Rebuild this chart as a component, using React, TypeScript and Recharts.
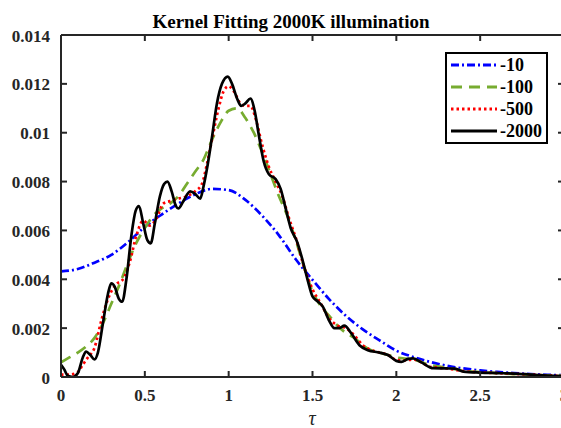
import React from "react";
import { LineChart, Line, XAxis, YAxis, Legend, ReferenceLine } from "recharts";

// kernel density estimates (tau, density)
const tau10 = [0, 0.1, 0.2, 0.3, 0.4, 0.5, 0.6, 0.7, 0.8, 0.9, 1.0, 1.1, 1.2, 1.3, 1.4, 1.5, 1.6, 1.7, 1.8, 1.9, 2.0, 2.1, 2.2, 2.3, 2.4, 2.5, 2.6, 2.7, 2.8, 2.9, 3.0];
const kde10 = [0.00432, 0.00442, 0.00468, 0.005, 0.00552, 0.00615, 0.00665, 0.0071, 0.00748, 0.0077, 0.00765, 0.00725, 0.0066, 0.0058, 0.00482, 0.00398, 0.00318, 0.0025, 0.00195, 0.0015, 0.00108, 0.00082, 0.00062, 0.00046, 0.00035, 0.00027, 0.00021, 0.00016, 0.00012, 0.00009, 0.00007];

const tau100 = [0, 0.05, 0.1, 0.15, 0.2, 0.25, 0.3, 0.35, 0.4, 0.45, 0.5, 0.55, 0.6, 0.65, 0.7, 0.75, 0.8, 0.85, 0.9, 0.95, 1.0, 1.05, 1.1, 1.15, 1.2, 1.25, 1.3, 1.35, 1.4, 1.45, 1.5, 1.55, 1.6, 1.65, 1.7, 1.75, 1.8, 1.85, 1.9, 1.95, 2.0, 2.1, 2.2, 2.3, 2.4, 2.5, 2.6, 2.7, 2.8, 2.9, 3.0];
const kde100 = [0.0006, 0.0008, 0.001, 0.00125, 0.0016, 0.0022, 0.003, 0.0038, 0.0047, 0.0055, 0.0061, 0.0066, 0.0069, 0.0071, 0.0074, 0.0079, 0.0084, 0.0089, 0.0097, 0.0104, 0.0109, 0.011, 0.0106, 0.01, 0.0092, 0.0083, 0.0074, 0.0066, 0.0056, 0.0045, 0.0035, 0.0029, 0.0025, 0.0021, 0.0018, 0.0016, 0.0013, 0.0011, 0.001, 0.0009, 0.0008, 0.00072, 0.0005, 0.00038, 0.00026, 0.0002, 0.00016, 0.00012, 0.00009, 0.00007, 0.00005];

const tau500 = [0, 0.05, 0.1, 0.13, 0.16, 0.2, 0.24, 0.27, 0.3, 0.33, 0.37, 0.41, 0.45, 0.49, 0.53, 0.57, 0.61, 0.65, 0.7, 0.75, 0.8, 0.84, 0.87, 0.9, 0.94, 0.97, 1.0, 1.03, 1.07, 1.1, 1.13, 1.16, 1.2, 1.24, 1.28, 1.32, 1.36, 1.4, 1.45, 1.5, 1.55, 1.6, 1.65, 1.7, 1.75, 1.8, 1.85, 1.9, 1.95, 2.0, 2.05, 2.1, 2.15, 2.2, 2.3, 2.4, 2.5, 2.6, 2.7, 2.8, 2.9, 3.0];
const kde500 = [0.0001, 0.0001, 0.0002, 0.0005, 0.0008, 0.0012, 0.0023, 0.003, 0.0035, 0.0038, 0.004, 0.0047, 0.0058, 0.0064, 0.0062, 0.0065, 0.0071, 0.0072, 0.0073, 0.0074, 0.0076, 0.0079, 0.0087, 0.0097, 0.011, 0.0117, 0.0119, 0.0117, 0.0112, 0.0111, 0.0111, 0.0106, 0.0095, 0.0086, 0.008, 0.0074, 0.0065, 0.0057, 0.0045, 0.0036, 0.003, 0.0024, 0.0021, 0.002, 0.0017, 0.0013, 0.0011, 0.001, 0.0009, 0.0007, 0.00068, 0.00072, 0.0006, 0.00042, 0.00035, 0.00024, 0.00019, 0.00016, 0.00013, 0.0001, 0.00006, 0.00004];

const tau2000 = [0, 0.02, 0.04, 0.07, 0.1, 0.13, 0.15, 0.175, 0.2, 0.22, 0.25, 0.28, 0.3, 0.32, 0.345, 0.365, 0.39, 0.42, 0.445, 0.465, 0.49, 0.515, 0.535, 0.56, 0.59, 0.615, 0.635, 0.66, 0.685, 0.7, 0.73, 0.77, 0.8, 0.83, 0.85, 0.87, 0.9, 0.93, 0.96, 0.995, 1.02, 1.05, 1.075, 1.1, 1.13, 1.155, 1.18, 1.21, 1.24, 1.28, 1.31, 1.34, 1.37, 1.41, 1.44, 1.47, 1.5, 1.53, 1.56, 1.6, 1.63, 1.66, 1.69, 1.73, 1.78, 1.83, 1.9, 1.95, 2.0, 2.03, 2.07, 2.1, 2.15, 2.22, 2.3, 2.35, 2.4, 2.5, 2.6, 2.7, 2.8, 2.9, 3.0];
const kde2000 = [0.0005, 0.0003, 0.00005, 0, 0.00015, 0.0008, 0.00104, 0.0009, 0.00072, 0.001, 0.0022, 0.0034, 0.00383, 0.0037, 0.0032, 0.00308, 0.004, 0.0058, 0.0068, 0.007, 0.0063, 0.0056, 0.00547, 0.0063, 0.0074, 0.0079, 0.008, 0.0076, 0.007, 0.0069, 0.0072, 0.0076, 0.0075, 0.0073, 0.0078, 0.0085, 0.0098, 0.0112, 0.012, 0.0123, 0.012, 0.0114, 0.0111, 0.0112, 0.0114, 0.0109, 0.0099, 0.0088, 0.0083, 0.0081, 0.0077, 0.0069, 0.0061, 0.0055, 0.0048, 0.004, 0.0033, 0.0031, 0.0029, 0.0023, 0.002, 0.002, 0.0021, 0.0018, 0.0013, 0.0011, 0.001, 0.0009, 0.00066, 0.00062, 0.00074, 0.00076, 0.0006, 0.00036, 0.00035, 0.00034, 0.00022, 0.00018, 0.00016, 0.00014, 0.0001, 0.00006, 0.00003];

const xTicks = [0, 0.5, 1, 1.5, 2, 2.5, 3];
const yTicks = [0, 0.002, 0.004, 0.006, 0.008, 0.01, 0.012, 0.014];

const toPoints = (t: number[], v: number[]) => t.map((x, i) => ({ t: x, v: v[i] }));

const series = [
  { name: "-10", data: toPoints(tau10, kde10), color: "#0000ff", dash: "8 3 2 3" },
  { name: "-100", data: toPoints(tau100, kde100), color: "#77ac30", dash: "11 7" },
  { name: "-500", data: toPoints(tau500, kde500), color: "#ff0000", dash: "2.5 3" },
  { name: "-2000", data: toPoints(tau2000, kde2000), color: "#000000", dash: undefined },
];

const FONT = "'Liberation Serif', 'Times New Roman', serif";
const AXIS = "#262626";
const PLOT_TOP = 35;
const PLOT_RIGHT = 564;

const XTick = (props: any) => {
  const { x, y, payload } = props;
  return (
    <g>
      <line x1={x} y1={y} x2={x} y2={y - 6} stroke={AXIS} strokeWidth={2} />
      <line x1={x} y1={PLOT_TOP} x2={x} y2={PLOT_TOP + 6} stroke={AXIS} strokeWidth={2} />
      <text x={x} y={y + 24} textAnchor="middle" fill={AXIS} fontFamily={FONT} fontWeight="bold" fontSize={17}>
        {payload.value}
      </text>
    </g>
  );
};

const YTick = (props: any) => {
  const { x, y, payload } = props;
  return (
    <g>
      <line x1={x} y1={y} x2={x + 6} y2={y} stroke={AXIS} strokeWidth={2} />
      <line x1={PLOT_RIGHT - 6} y1={y} x2={PLOT_RIGHT} y2={y} stroke={AXIS} strokeWidth={2} />
      <text x={x - 11} y={y + 6.5} textAnchor="end" fill={AXIS} fontFamily={FONT} fontWeight="bold" fontSize={17}>
        {payload.value}
      </text>
    </g>
  );
};

// legend keeps the series order (recharts sorts its payload by name)
const LegendBox = () => (
  <div
    style={{
      boxSizing: "border-box",
      width: 103,
      height: 92,
      border: "2px solid #000",
      background: "#fff",
      paddingLeft: 4,
    }}
  >
    {series.map((s) => (
      <div key={s.name} style={{ display: "flex", alignItems: "center", height: 22 }}>
        <svg width={46} height={8} style={{ display: "block" }}>
          <line x1={0} y1={4} x2={46} y2={4} stroke={s.color} strokeWidth={3} strokeDasharray={s.dash} />
        </svg>
        <span
          style={{
            marginLeft: 3,
            fontFamily: FONT,
            fontWeight: "bold",
            fontSize: 18,
            color: "#000",
            lineHeight: "22px",
          }}
        >
          {s.name}
        </span>
      </div>
    ))}
  </div>
);

export default function App() {
  return (
    <div
      style={{
        position: "absolute",
        left: 0,
        top: 0,
        width: 561,
        height: 428,
        overflow: "hidden",
        background: "#fff",
      }}
    >
      <LineChart width={600} height={428} margin={{ top: 35, right: 36, bottom: 0, left: 0 }}>
        <XAxis
          type="number"
          dataKey="t"
          domain={[0, 3]}
          ticks={xTicks}
          interval={0}
          height={51}
          tickSize={0}
          tickMargin={0}
          tickLine={false}
          tick={<XTick />}
          axisLine={{ stroke: AXIS, strokeWidth: 2 }}
          allowDataOverflow
        />
        <YAxis
          type="number"
          domain={[0, 0.014]}
          ticks={yTicks}
          interval={0}
          width={61}
          tickSize={0}
          tickMargin={0}
          tickLine={false}
          tick={<YTick />}
          axisLine={{ stroke: AXIS, strokeWidth: 2 }}
          allowDataOverflow
        />
        <ReferenceLine y={0.014} stroke={AXIS} strokeWidth={2} />
        <ReferenceLine x={3} stroke={AXIS} strokeWidth={2} />
        {series.map((s) => (
          <Line
            key={s.name}
            name={s.name}
            data={s.data}
            dataKey="v"
            type="monotone"
            stroke={s.color}
            strokeWidth={2.7}
            strokeDasharray={s.dash}
            dot={false}
            activeDot={false}
            isAnimationActive={false}
          />
        ))}
        <Legend
          layout="vertical"
          align="center"
          verticalAlign="middle"
          content={<LegendBox />}
          wrapperStyle={{ left: 445, top: 52, width: 103, height: 92 }}
        />
      </LineChart>
      <svg width={561} height={428} style={{ position: "absolute", left: 0, top: 0, pointerEvents: "none" }}>
        <text x={291} y={28} textAnchor="middle" fontFamily={FONT} fontWeight="bold" fontSize={19} fill="#000">
          Kernel Fitting 2000K illumination
        </text>
        <text x={312} y={425} textAnchor="middle" fontFamily={FONT} fontStyle="italic" fontSize={20} fill={AXIS}>
          τ
        </text>
      </svg>
    </div>
  );
}
